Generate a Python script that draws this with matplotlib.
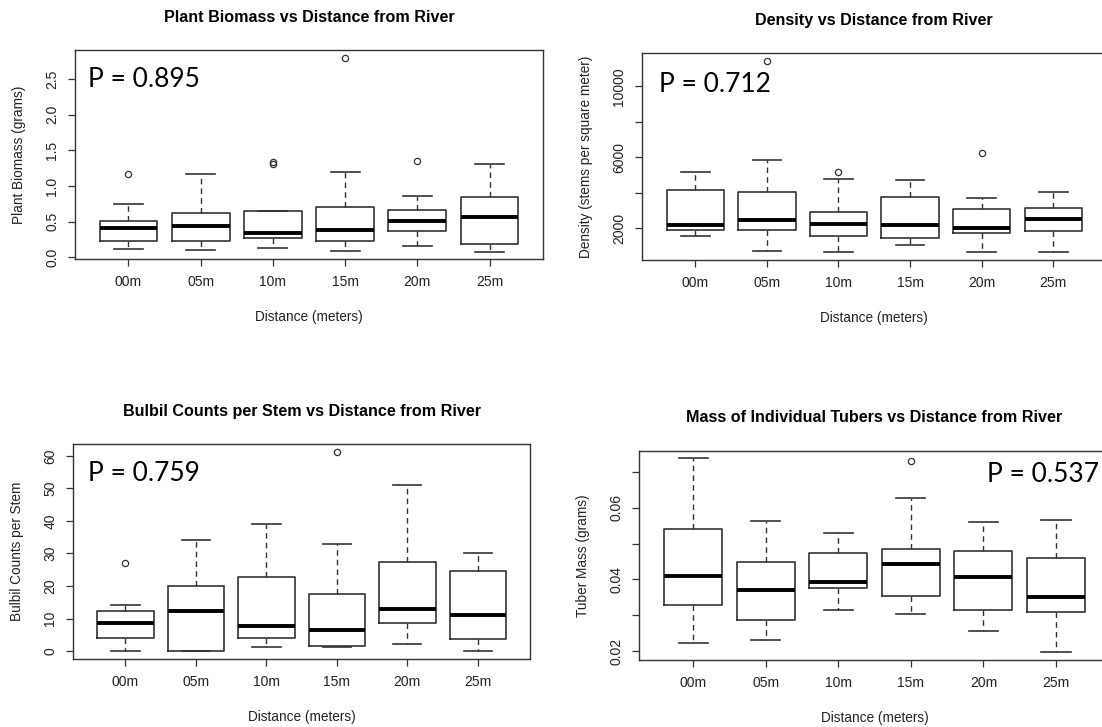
import matplotlib
matplotlib.use("Agg")
import matplotlib.pyplot as plt
from matplotlib.ticker import FixedLocator, FixedFormatter

plt.rcParams['font.family'] = ['Liberation Sans', 'DejaVu Sans']

categories = ['00m', '05m', '10m', '15m', '20m', '25m']

# Plant biomass (grams)
bio_lo = [0.11, 0.10, 0.13, 0.09, 0.16, 0.08]
bio_q1 = [0.225, 0.225, 0.27, 0.235, 0.365, 0.185]
bio_med = [0.41, 0.44, 0.345, 0.385, 0.515, 0.57]
bio_q3 = [0.515, 0.62, 0.645, 0.71, 0.665, 0.845]
bio_hi = [0.75, 1.17, 0.655, 1.19, 0.855, 1.315]
bio_out = [[1.17], [], [1.315, 1.335], [2.80], [1.35], []]

# Density (stems per square meter)
den_lo = [1570, 720, 630, 1040, 630, 670]
den_q1 = [1870, 1870, 1530, 1440, 1720, 1810]
den_med = [2190, 2430, 2245, 2190, 2000, 2490]
den_q3 = [4120, 4010, 2900, 3745, 3050, 3110]
den_hi = [5140, 5850, 4760, 4720, 3670, 4010]
den_out = [[], [11430], [5140], [], [6245], []]

# Bulbil counts per stem
bul_lo = [0, 0, 1.1, 1.1, 2.15, 0]
bul_q1 = [4.1, 0, 4.1, 1.6, 8.7, 3.6]
bul_med = [8.7, 12.3, 7.7, 6.55, 13.0, 11.0]
bul_q3 = [12.2, 20.1, 22.7, 17.6, 27.5, 24.6]
bul_hi = [14.0, 34.1, 38.9, 33.0, 51.1, 30.0]
bul_out = [[27.0], [], [], [61.1], [], []]

# Tuber mass (grams)
tub_lo = [0.0223, 0.0230, 0.0316, 0.0304, 0.0257, 0.0197]
tub_q1 = [0.0330, 0.0287, 0.0375, 0.0354, 0.0314, 0.0310]
tub_med = [0.0409, 0.0371, 0.0393, 0.0443, 0.0406, 0.0352]
tub_q3 = [0.0540, 0.0448, 0.0473, 0.0485, 0.0480, 0.0459]
tub_hi = [0.0737, 0.0563, 0.0528, 0.0628, 0.0561, 0.0566]
tub_out = [[], [], [], [0.0730], [], []]

W, H = 1102, 727
fig = plt.figure(figsize=(W / 100, H / 100), dpi=100)
fig.patch.set_facecolor('white')

LINE = '#333333'


def make_axes(left, right, top, bottom):
    return fig.add_axes([left / W, 1 - bottom / H, (right - left) / W, (bottom - top) / H])


def panel(ax, lo, q1, med, q3, hi, out, title, ylabel, yticks, ylabels, ptext, pxy, pha='left'):
    stats = []
    for i in range(len(categories)):
        stats.append(dict(med=med[i], q1=q1[i], q3=q3[i], whislo=lo[i], whishi=hi[i],
                          fliers=out[i], label=categories[i]))
    pos = list(range(1, len(categories) + 1))
    ax.bxp(stats, positions=pos, widths=0.8, capwidths=0.4, showfliers=True,
           boxprops=dict(color=LINE, linewidth=1.2),
           medianprops=dict(color='black', linewidth=2.8, solid_capstyle='butt'),
           whiskerprops=dict(color=LINE, linewidth=1.0, linestyle=(0, (4, 3))),
           capprops=dict(color=LINE, linewidth=1.2),
           flierprops=dict(marker='o', markersize=4.5, markerfacecolor='none',
                           markeredgecolor=LINE, markeredgewidth=0.9, linestyle='none'))
    allv = list(lo) + list(hi) + [v for o in out for v in o]
    vmin, vmax = min(allv), max(allv)
    pad = 0.04 * (vmax - vmin)
    ax.set_ylim(vmin - pad, vmax + pad)
    ax.set_xlim(0.5 - 0.24, len(categories) + 0.5 + 0.24)
    ax.xaxis.set_major_locator(FixedLocator(pos))
    ax.xaxis.set_major_formatter(FixedFormatter(categories))
    ax.yaxis.set_major_locator(FixedLocator(yticks))
    ax.yaxis.set_major_formatter(FixedFormatter(ylabels))
    ax.tick_params(axis='both', direction='out', length=5, width=0.9, color=LINE,
                   labelsize=10, labelcolor='#222222', pad=6.5)
    for lab in ax.get_yticklabels():
        lab.set_rotation(90)
        lab.set_va('center')
    for s in ax.spines.values():
        s.set_color(LINE)
        s.set_linewidth(1.0)
    bb = ax.get_position()
    wpx, hpx = bb.width * W, bb.height * H
    ax.set_xlabel('Distance (meters)', fontsize=9.8, color='#222222', va='center')
    ax.xaxis.set_label_coords(0.5, -58 / hpx)
    ax.set_ylabel(ylabel, fontsize=9.8, color='#222222', va='center')
    ax.yaxis.set_label_coords(-56 / wpx, 0.5)
    ax.text(0.5, 1 + 33 / hpx, title, transform=ax.transAxes, ha='center', va='center',
            fontsize=11.6, fontweight='bold', color='black')
    fig.text(pxy[0] / W, 1 - pxy[1] / H, ptext, ha=pha, va='baseline',
             fontsize=19, family=['Lato', 'DejaVu Sans'], color='black')


ax1 = make_axes(75, 543, 50, 259.3)
panel(ax1, bio_lo, bio_q1, bio_med, bio_q3, bio_hi, bio_out,
      'Plant Biomass vs Distance from River', 'Plant Biomass (grams)',
      [0, 0.5, 1.0, 1.5, 2.0, 2.5], ['0.0', '0.5', '1.0', '1.5', '2.0', '2.5'],
      'P = 0.895', (88, 87.4))

ax2 = make_axes(642.3, 1106.3, 53.3, 260)
panel(ax2, den_lo, den_q1, den_med, den_q3, den_hi, den_out,
      'Density vs Distance from River', 'Density (stems per square meter)',
      [2000, 4000, 6000, 8000, 10000], ['2000', '', '6000', '', '10000'],
      'P = 0.712', (659, 91.6))

ax3 = make_axes(73.3, 530, 444.3, 659)
panel(ax3, bul_lo, bul_q1, bul_med, bul_q3, bul_hi, bul_out,
      'Bulbil Counts per Stem vs Distance from River', 'Bulbil Counts per Stem',
      [0, 10, 20, 30, 40, 50, 60], ['0', '10', '20', '30', '40', '50', '60'],
      'P = 0.759', (88, 481))

ax4 = make_axes(639.3, 1109.7, 450.7, 660)
panel(ax4, tub_lo, tub_q1, tub_med, tub_q3, tub_hi, tub_out,
      'Mass of Individual Tubers vs Distance from River', 'Tuber Mass (grams)',
      [0.02, 0.03, 0.04, 0.05, 0.06, 0.07], ['0.02', '', '0.04', '', '0.06', ''],
      'P = 0.537', (1099, 481.5), pha='right')

fig.savefig('out.png', dpi=100, facecolor='white')
